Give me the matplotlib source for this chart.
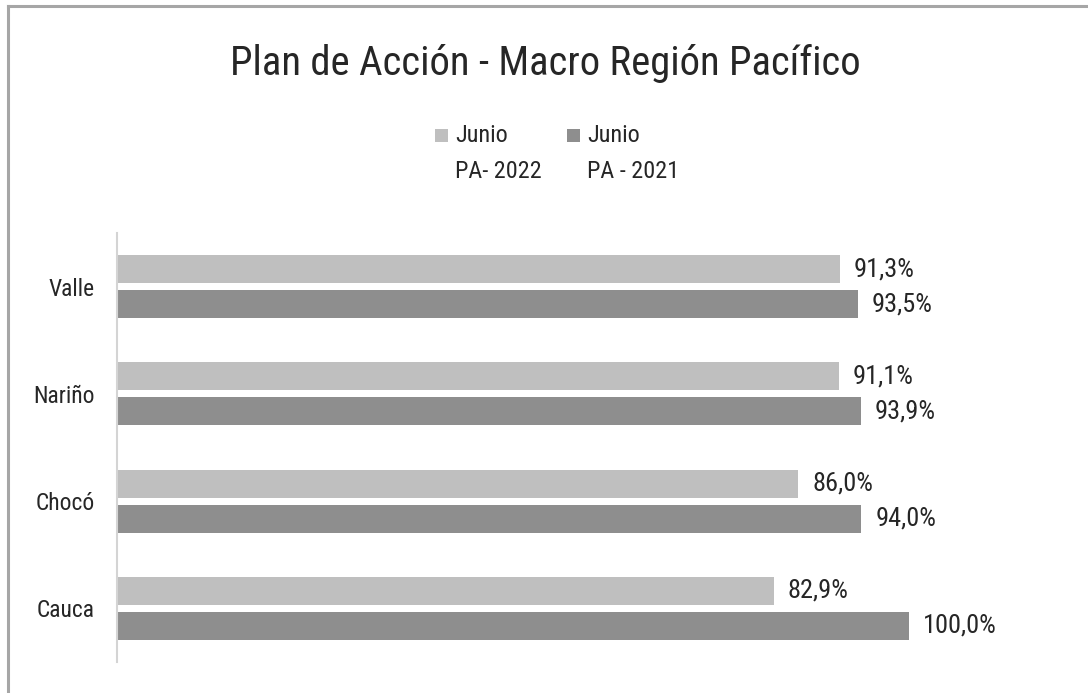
import matplotlib
matplotlib.use("Agg")
import matplotlib.pyplot as plt
from matplotlib.lines import Line2D
from matplotlib.patches import Rectangle
from matplotlib import font_manager as fm

# ---- data ----
categories = ["Valle", "Nariño", "Chocó", "Cauca"]
pa_2022 = [91.3, 91.1, 86.0, 82.9]
pa_2021 = [93.5, 93.9, 94.0, 100.0]
labels_2022 = ["91,3%", "91,1%", "86,0%", "82,9%"]
labels_2021 = ["93,5%", "93,9%", "94,0%", "100,0%"]
series_names = ["Junio\nPA- 2022", "Junio\nPA - 2021"]
title = "Plan de Acción - Macro Región Pacífico"

light = "#BFBFBF"
dark = "#8E8E8E"
text_col = "#262626"

# ---- pick a narrow font if one is installed ----
def pick_font():
    prefs = ["Liberation Sans Narrow", "Roboto Condensed", "Open Sans Condensed",
             "DejaVu Sans Condensed", "Noto Sans Condensed"]
    lst = fm.fontManager.ttflist
    for p in prefs:
        for f in lst:
            if f.name == p and f.style == "normal" and f.weight in (400, "normal", "regular"):
                return fm.FontProperties(fname=f.fname)
    for f in lst:
        if f.name == "DejaVu Sans" and f.stretch in ("condensed", "semi-condensed") \
                and f.style == "normal" and f.weight in (400, "normal", "regular"):
            return fm.FontProperties(fname=f.fname)
    return fm.FontProperties(family="Lato")

base_fp = pick_font()

W, H = 1088, 693
fig = plt.figure(figsize=(W / 100, H / 100), dpi=100)
renderer = fig.canvas.get_renderer()

def fx(px):
    return px / W

def fy(py):
    return 1 - py / H

def fit_size(s, target_px, guess=20.0):
    t = fig.text(0, 0, s, fontproperties=base_fp, fontsize=guess)
    w = t.get_window_extent(renderer).width
    t.remove()
    return guess * target_px / w

def fp(size):
    p = base_fp.copy()
    p.set_size(size)
    return p

title_sz = fit_size(title, 630)
cat_sz = fit_size("Cauca", 58)
val_sz = fit_size("82,9%", 61)
leg_sz = fit_size("PA - 2021", 92)

ax = fig.add_axes([fx(117), fy(662), fx(1000) - fx(117), fy(233) - fy(662)])

y = list(range(len(categories)))
off = 0.163
bh = 0.262
y1 = [v - off for v in y]
y2 = [v + off for v in y]
b1 = ax.barh(y1, pa_2022, height=bh, color=light, linewidth=0)
b2 = ax.barh(y2, pa_2021, height=bh, color=dark, linewidth=0)

ax.set_xlim(0, (1000 - 117) / 7.92)
ax.set_ylim(len(categories) - 0.5, -0.5)
ax.set_yticks(y)
ax.set_yticklabels(categories, fontproperties=fp(cat_sz), color=text_col)
ax.tick_params(axis='y', length=0, pad=16)
ax.set_xticks([])
for s in ["top", "right", "bottom"]:
    ax.spines[s].set_visible(False)
ax.spines["left"].set_color("#D4D4D4")
ax.spines["left"].set_linewidth(1.5)

for bars, labs in ((b1, labels_2022), (b2, labels_2021)):
    anns = ax.bar_label(bars, labels=labs, padding=10, color=text_col)
    for a in anns:
        a.set_fontproperties(fp(val_sz))

# title
fig.text(fx(545), fy(63), title, ha="center", va="center", fontproperties=fp(title_sz), color=text_col)

# legend (manual, Excel-like wrapped labels)
leg_x = [435, 567]
for xs, col, name in zip(leg_x, [light, dark], series_names):
    fig.patches.append(Rectangle((fx(xs), fy(142)), fx(13), fy(129) - fy(142),
                                 transform=fig.transFigure, facecolor=col, edgecolor="none"))
    l1, l2 = name.split("\n")
    fig.text(fx(xs + 20), fy(136), l1, ha="left", va="center", fontproperties=fp(leg_sz), color=text_col)
    fig.text(fx(xs + 20), fy(171), l2, ha="left", va="center", fontproperties=fp(leg_sz), color=text_col)

# outer border (top and left)
fig.add_artist(Line2D([fx(8), 1], [fy(6), fy(6)], transform=fig.transFigure, color="#A6A6A6", lw=2.2))
fig.add_artist(Line2D([fx(8), fx(8)], [fy(6), 0], transform=fig.transFigure, color="#A6A6A6", lw=2.2))

fig.savefig("out.png", dpi=100, facecolor="white")
